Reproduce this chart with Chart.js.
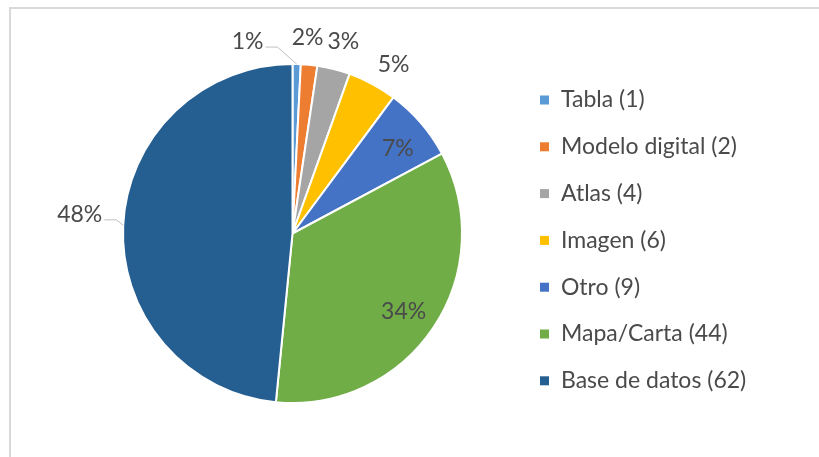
<!DOCTYPE html>
<html>
<head>
<meta charset="utf-8">
<script src="https://cdn.jsdelivr.net/npm/chart.js@4.4.1/dist/chart.umd.min.js"></script>
<style>
  html, body { margin: 0; padding: 0; background: #fff; }
  #wrap { position: relative; width: 819px; height: 457px; overflow: hidden; }
  #frame { position: absolute; left: 9px; top: 7px; right: -5px; bottom: -5px;
           border-left: 2px solid #d9d9d9; border-top: 2px solid #d9d9d9; pointer-events: none; }
</style>
</head>
<body>
<div id="wrap">
  <canvas id="pieChart" width="819" height="457"></canvas>
  <div id="frame"></div>
</div>
<script>
// data
const categories = ['Tabla', 'Modelo digital', 'Atlas', 'Imagen', 'Otro', 'Mapa/Carta', 'Base de datos'];
const counts = [1, 2, 4, 6, 9, 44, 62];
const pctLabels = ['1%', '2%', '3%', '5%', '7%', '34%', '48%'];
const sliceColors = ['#5B9BD5', '#ED7D31', '#A5A5A5', '#FFC000', '#4472C4', '#70AD47', '#255E91'];

// where each percent label sits, as fraction of radius and angle nudge (deg)
const labelRadius = [1.16, 1.16, 1.17, 1.16, 0.8, 0.8, 1.26];
const labelTurn = [-14.6, -1.2, 0.8, 2.8, 1.8, 1.2, 2.2];
const hasLeader = [true, false, false, false, false, false, true];

const FONT = 'Lato, "Open Sans", sans-serif';
const TEXT = '#4a4a4a';

const labelPlugin = {
    id: 'pctLabels',
    afterDatasetsDraw(chart) {
        const ctx = chart.ctx;
        const arcs = chart.getDatasetMeta(0).data;
        ctx.save();
        ctx.font = '23px ' + FONT;
        ctx.fillStyle = TEXT;
        ctx.textAlign = 'center';
        ctx.textBaseline = 'middle';
        arcs.forEach(function (arc, i) {
            let p = arc.getProps(['x', 'y', 'startAngle', 'endAngle', 'outerRadius'], true);
            let mid = (p.startAngle + p.endAngle) / 2;
            let ang = mid + labelTurn[i] * Math.PI / 180;
            let lx = p.x + Math.cos(ang) * p.outerRadius * labelRadius[i];
            let ly = p.y + Math.sin(ang) * p.outerRadius * labelRadius[i];
            ctx.fillText(pctLabels[i], lx, ly);
            if (hasLeader[i]) {
                let sx = p.x + Math.cos(mid) * p.outerRadius;
                let sy = p.y + Math.sin(mid) * p.outerRadius;
                let half = ctx.measureText(pctLabels[i]).width / 2 + 2;
                let side = sx > lx ? 1 : -1;
                let ex = lx + side * half;
                let ey = ly + 5;
                ctx.strokeStyle = '#bfbfbf';
                ctx.lineWidth = 1;
                ctx.beginPath();
                ctx.moveTo(ex, ey);
                ctx.lineTo(ex + side * 12, ey);
                ctx.lineTo(sx, sy);
                ctx.stroke();
            }
        });
        ctx.restore();
    }
};

const legendPlugin = {
    id: 'sideLegend',
    afterDraw(chart) {
        const ctx = chart.ctx;
        ctx.save();
        ctx.font = '23px ' + FONT;
        ctx.textBaseline = 'middle';
        chart.data.labels.forEach(function (lab, i) {
            let y = 100 + i * 46.8;
            ctx.fillStyle = sliceColors[i];
            ctx.fillRect(540, y - 4.5, 9, 9);
            ctx.fillStyle = TEXT;
            ctx.fillText(lab + ' (' + counts[i] + ')', 561, y);
        });
        ctx.restore();
    }
};

new Chart(document.getElementById('pieChart'), {
    type: 'pie',
    data: {
        labels: categories,
        datasets: [{
            data: counts,
            backgroundColor: sliceColors,
            borderColor: '#ffffff',
            borderWidth: 2
        }]
    },
    options: {
        responsive: false,
        animation: false,
        layout: { padding: { left: 122, right: 356, top: 63, bottom: 53 } },
        plugins: {
            legend: { display: false },
            tooltip: { enabled: false }
        }
    },
    plugins: [labelPlugin, legendPlugin]
});
</script>
</body>
</html>
